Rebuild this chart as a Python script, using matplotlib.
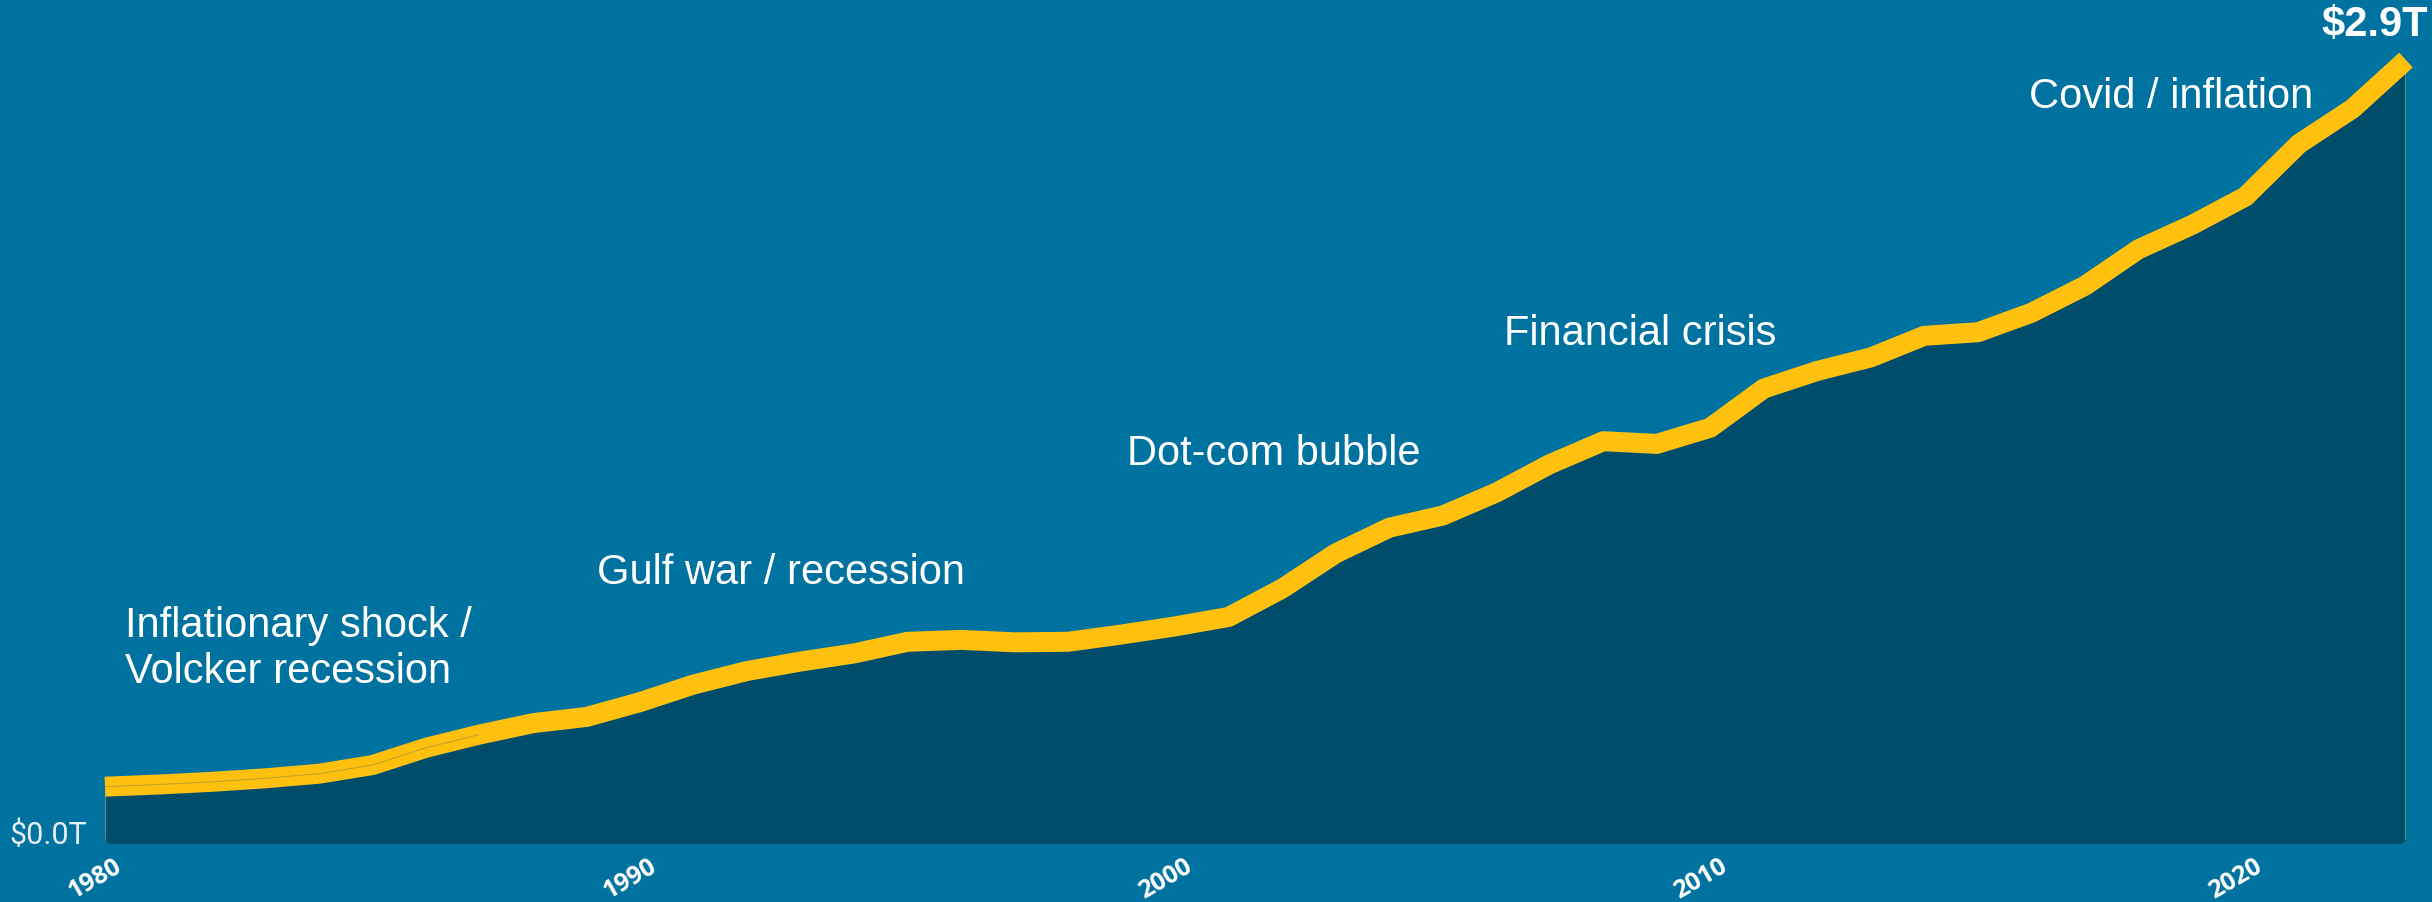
import numpy as np
import matplotlib
matplotlib.use("Agg")
import matplotlib.pyplot as plt
from matplotlib.patches import FancyBboxPatch
from matplotlib.transforms import ScaledTranslation

# annual totals, trillions of dollars
years = list(range(1980, 2024))
values = [0.212, 0.220, 0.230, 0.243, 0.260, 0.292, 0.356, 0.405, 0.447, 0.470,
          0.525, 0.590, 0.640, 0.675, 0.705, 0.748, 0.755, 0.746, 0.748, 0.775,
          0.805, 0.840, 0.945, 1.075, 1.170, 1.215, 1.300, 1.405, 1.490, 1.480,
          1.540, 1.685, 1.750, 1.800, 1.880, 1.893, 1.965, 2.065, 2.200, 2.290,
          2.395, 2.590, 2.720, 2.900]

events = ["Inflationary shock /\nVolcker recession", "Gulf war / recession",
          "Dot-com bubble", "Financial crisis", "Covid / inflation"]
event_x = [1980.37, 1989.20, 1999.09, 2006.15, 2015.95]
event_y = [0.596, 0.962, 1.402, 1.846, 2.723]

tick_years = [1980, 1990, 2000, 2010, 2020]

BG = "#00729F"
AREA = "#004D6B"
GOLD = "#FFC10E"

fig = plt.figure(figsize=(24.32, 9.02), dpi=100, facecolor=BG)
ax = fig.add_axes([105 / 2432, 58 / 902, 2301 / 2432, 811 / 902])
ax.set_facecolor(BG)
ax.set_xlim(years[0], years[-1])
ax.set_ylim(0, 3.0)

# rounded clip box so the fill gets soft bottom corners
pos = ax.get_position()
W, H = fig.get_size_inches()
clip = FancyBboxPatch((pos.x0 * W, pos.y0 * H), pos.width * W, pos.height * H,
                      boxstyle="round,pad=0,rounding_size=0.07",
                      transform=fig.dpi_scale_trans, facecolor="none", edgecolor="none")
fig.add_artist(clip)
clip.set_visible(False)

fill = ax.fill_between(years, 0, values, color=AREA, linewidth=0)
fill.set_clip_path(clip)
edges = ax.vlines([years[0], years[-1]], 0, [values[0], values[-1]],
                  color="#5E8E80", linewidth=1.5)
edges.set_clip_path(clip)

ax.plot(years, values, color=GOLD, linewidth=14.4, solid_capstyle="butt",
        solid_joinstyle="round", clip_on=False)
# faint seam along the early stretch of the band
ax.plot(years[:8], values[:8], color="#A89A3A", linewidth=0.7, alpha=0.8,
        solid_capstyle="butt", clip_on=False)

for label, x, y in zip(events, event_x, event_y):
    ax.text(x, y, label, color="white", fontsize=30, family="Liberation Sans",
            ha="left", va="baseline", linespacing=1.18)

ax.annotate("$%.1fT" % values[-1], xy=(years[-1], values[-1]),
            xytext=(22, 35), textcoords="offset pixels", ha="right", va="center",
            color="white", fontsize=30, fontweight="bold", family="Liberation Sans",
            annotation_clip=False)
ax.annotate("$0.0T", xy=(0, 0), xycoords=("axes fraction", "data"),
            xytext=(-18, 0), textcoords="offset pixels", ha="right", va="baseline",
            color="#E6EEF3", fontsize=22, family="Roboto", annotation_clip=False)

ax.set_xticks(tick_years)
ax.set_xticklabels([str(t) for t in tick_years], rotation=30, ha="center",
                   fontsize=18, fontweight="bold", family="Open Sans", color="white")
ax.tick_params(axis="x", length=0, pad=7)
shift = ScaledTranslation(-10 / 100, 0, fig.dpi_scale_trans)
for lbl in ax.get_xticklabels():
    lbl.set_transform(lbl.get_transform() + shift)
ax.set_yticks([])
for s in ax.spines.values():
    s.set_visible(False)

fig.savefig("out.png", dpi=100, facecolor=BG)
